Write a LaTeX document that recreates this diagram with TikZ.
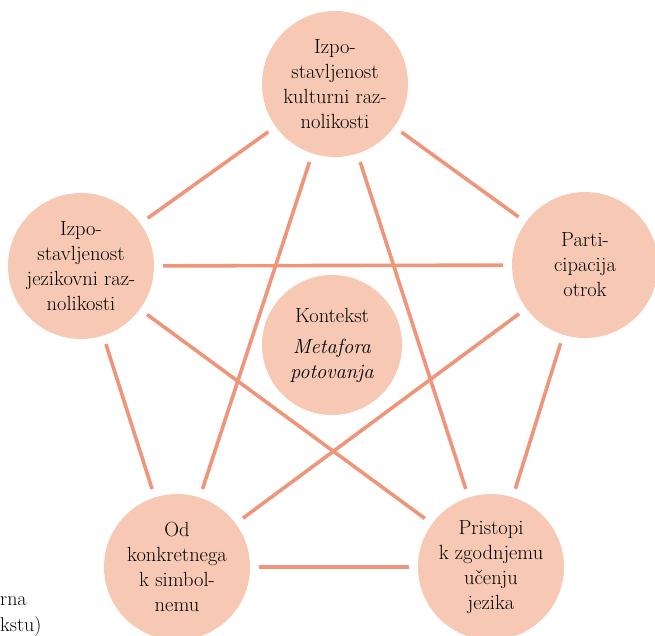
\documentclass[tikz,border=0pt]{standalone}
\usepackage{fontspec}
\definecolor{peach}{HTML}{F7C8B3}
\definecolor{salmon}{HTML}{EF957A}
\begin{document}
\begin{tikzpicture}[x=1pt,y=-1pt,
  bub/.style={circle,fill=peach,inner sep=0pt,minimum size=146pt,outer sep=9pt,
    align=center,font=\fontsize{20.5}{25}\selectfont},
  link/.style={draw=salmon,line width=3.6pt}]
\useasboundingbox (0,0) rectangle (655,635);
\node[bub] (T) at (335,84) {Izpo-\\stavljenost\\kulturni raz-\\nolikosti};
\node[bub] (L) at (81,266) {Izpo-\\stavljenost\\jezikovni raz-\\nolikosti};
\node[bub] (R) at (585,265) {Parti-\\cipacija\\otrok};
\node[bub] (BL) at (177,567) {Od\\konkretnega\\k simbol-\\nemu};
\node[bub] (BR) at (491,567) {Pristopi\\k zgodnjemu\\učenju\\jezika};
\node[bub,minimum size=140pt] (C) at (332,345) {Kontekst\\[6pt]\textit{Metafora}\\\textit{potovanja}};
\draw[link] (T) -- (L);
\draw[link] (T) -- (R);
\draw[link] (T) -- (BL);
\draw[link] (T) -- (BR);
\draw[link] (L) -- (R);
\draw[link] (L) -- (BL);
\draw[link] (L) -- (BR);
\draw[link] (R) -- (BL);
\draw[link] (R) -- (BR);
\draw[link] (BL) -- (BR);
\node[anchor=base west,inner sep=0pt,font=\fontsize{20}{25}\selectfont] (t1) at (0,605) {rna};
\node[anchor=base west,inner sep=0pt,font=\fontsize{20}{25}\selectfont] (t2) at (0,631) {kstu)};
\end{tikzpicture}
\end{document}
